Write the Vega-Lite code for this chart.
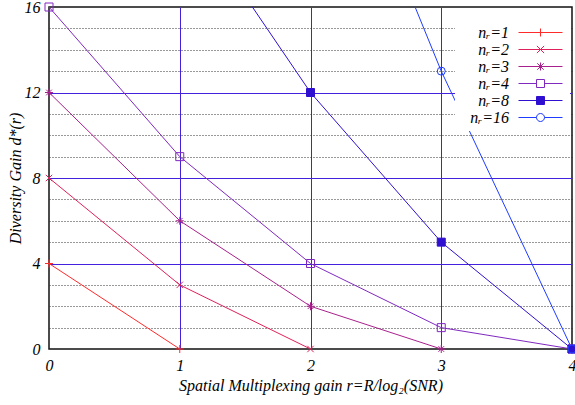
{
  "$schema": "https://vega.github.io/schema/vega-lite/v6.json",
  "width": 523,
  "height": 342,
  "autosize": {"type": "none"},
  "padding": {"left": 49, "top": 7, "right": 3, "bottom": 56},
  "background": "white",
  "config": {"view": {"stroke": "#111", "strokeWidth": 1.5}, "font": "Liberation Serif"},
  "data": {
    "values": [
      {"series": "nᵣ=1", "r": 0, "d": 4},
      {"series": "nᵣ=1", "r": 1, "d": 0},
      {"series": "nᵣ=2", "r": 0, "d": 8},
      {"series": "nᵣ=2", "r": 1, "d": 3},
      {"series": "nᵣ=2", "r": 2, "d": 0},
      {"series": "nᵣ=3", "r": 0, "d": 12},
      {"series": "nᵣ=3", "r": 1, "d": 6},
      {"series": "nᵣ=3", "r": 2, "d": 2},
      {"series": "nᵣ=3", "r": 3, "d": 0},
      {"series": "nᵣ=4", "r": 0, "d": 16},
      {"series": "nᵣ=4", "r": 1, "d": 9},
      {"series": "nᵣ=4", "r": 2, "d": 4},
      {"series": "nᵣ=4", "r": 3, "d": 1},
      {"series": "nᵣ=4", "r": 4, "d": 0},
      {"series": "nᵣ=8", "r": 0, "d": 32},
      {"series": "nᵣ=8", "r": 1, "d": 21},
      {"series": "nᵣ=8", "r": 2, "d": 12},
      {"series": "nᵣ=8", "r": 3, "d": 5},
      {"series": "nᵣ=8", "r": 4, "d": 0},
      {"series": "nᵣ=16", "r": 0, "d": 64},
      {"series": "nᵣ=16", "r": 1, "d": 45},
      {"series": "nᵣ=16", "r": 2, "d": 28},
      {"series": "nᵣ=16", "r": 3, "d": 13},
      {"series": "nᵣ=16", "r": 4, "d": 0}
    ]
  },
  "encoding": {
    "x": {
      "field": "r", "type": "quantitative",
      "scale": {"domain": [0, 4], "nice": false},
      "axis": {
        "values": [0, 1, 2, 3, 4], "format": "d",
        "domain": false, "ticks": false, "tickSize": 0,
        "labelFont": "Liberation Serif", "labelFontStyle": "italic", "labelFontSize": 16, "labelColor": "#000",
        "labelPadding": 8, "labelFlush": false,
        "title": "Spatial Multiplexing gain r=R/log₂(SNR)",
        "titleFont": "Liberation Serif", "titleFontStyle": "italic", "titleFontWeight": "normal", "titleFontSize": 16, "titleColor": "#000",
        "titlePadding": 4,
        "gridColor": {"condition": {"test": "datum.value == 0 || datum.value == 4", "value": "transparent"}, "value": "#4422dd"},
        "gridWidth": 1, "gridOpacity": 1
      }
    },
    "y": {
      "field": "d", "type": "quantitative",
      "scale": {"domain": [0, 16], "nice": false},
      "axis": {
        "values": [0, 1, 2, 3, 4, 5, 6, 7, 8, 9, 10, 11, 12, 13, 14, 15, 16],
        "labelExpr": "datum.value % 4 == 0 ? datum.label : ''",
        "domain": false, "ticks": false, "tickSize": 0,
        "labelFont": "Liberation Serif", "labelFontStyle": "italic", "labelFontSize": 16, "labelColor": "#000",
        "labelPadding": 9, "labelFlush": false,
        "title": "Diversity Gain d*(r)",
        "titleFont": "Liberation Serif", "titleFontStyle": "italic", "titleFontWeight": "normal", "titleFontSize": 16, "titleColor": "#000",
        "titlePadding": 1,
        "gridColor": {"condition": [{"test": "datum.value == 0 || datum.value == 16", "value": "transparent"}, {"test": "datum.value % 4 == 0", "value": "#4422dd"}], "value": "#333"},
        "gridDash": {"condition": {"test": "datum.value % 4 == 0", "value": []}, "value": [1, 2]},
        "gridWidth": 1, "gridOpacity": 1
      }
    }
  },
  "layer": [
    {
      "mark": {"type": "line", "clip": true, "strokeWidth": 1},
      "encoding": {
        "color": {
          "field": "series", "type": "nominal",
          "scale": {"domain": ["nᵣ=1", "nᵣ=2", "nᵣ=3", "nᵣ=4", "nᵣ=8", "nᵣ=16"], "range": ["#ff2a2a", "#e0205a", "#a8208c", "#8028c0", "#3010d0", "#1e3cff"]},
          "legend": null
        }
      }
    },
    {
      "transform": [{"filter": "datum.d <= 16"}],
      "mark": {"type": "point", "size": 64, "strokeWidth": 1, "opacity": 1},
      "encoding": {
        "shape": {
          "field": "series", "type": "nominal",
          "scale": {"domain": ["nᵣ=1", "nᵣ=2", "nᵣ=3", "nᵣ=4", "nᵣ=8", "nᵣ=16"],
            "range": ["M-1,0H1M0,-1V1", "M-0.8,-0.8L0.8,0.8M-0.8,0.8L0.8,-0.8", "M-1,0H1M0,-1V1M-0.7,-0.7L0.7,0.7M-0.7,0.7L0.7,-0.7", "M-1,-1H1V1H-1Z", "M-1,-1H1V1H-1Z", "circle"]},
          "legend": null
        },
        "stroke": {
          "field": "series", "type": "nominal",
          "scale": {"domain": ["nᵣ=1", "nᵣ=2", "nᵣ=3", "nᵣ=4", "nᵣ=8", "nᵣ=16"], "range": ["#ff2a2a", "#e0205a", "#a8208c", "#8028c0", "#3010d0", "#1e3cff"]},
          "legend": null
        },
        "fill": {
          "field": "series", "type": "nominal",
          "scale": {"domain": ["nᵣ=1", "nᵣ=2", "nᵣ=3", "nᵣ=4", "nᵣ=8", "nᵣ=16"], "range": ["transparent", "transparent", "transparent", "transparent", "#3010d0", "transparent"]},
          "legend": null
        }
      }
    },
    {
      "transform": [{"filter": "false"}],
      "mark": {"type": "point", "size": 256, "strokeWidth": 1, "opacity": 1},
      "encoding": {
        "shape": {
          "field": "series", "type": "nominal",
          "scale": {"domain": ["nᵣ=1", "nᵣ=2", "nᵣ=3", "nᵣ=4", "nᵣ=8", "nᵣ=16"],
            "range": [
              "M-2.75,0H2.75M0,-0.5V0.5",
              "M-2.75,0H2.75M-0.45,-0.45L0.45,0.45M-0.45,0.45L0.45,-0.45",
              "M-2.75,0H2.75M0,-0.5V0.5M-0.4,-0.4L0.4,0.4M-0.4,0.4L0.4,-0.4",
              "M-2.75,0H-0.5M0.5,0H2.75M-0.5,-0.5H0.5V0.5H-0.5Z",
              "M-2.75,0H2.75M-0.5,-0.5H0.5V0.5H-0.5Z",
              "M-2.75,0H-0.5M0.5,0H2.75M0.5,0A0.5,0.5 0 1,1 -0.5,0A0.5,0.5 0 1,1 0.5,0Z"
            ]},
          "legend": {
            "title": null, "orient": "none", "legendX": 406, "legendY": 12, "padding": 5,
            "labelFont": "Liberation Serif", "labelFontStyle": "italic", "labelFontSize": 16, "labelColor": "#000",
            "labelAlign": "right", "labelOffset": -40, "symbolOffset": 72, "symbolSize": 256, "symbolStrokeWidth": 1, "rowPadding": 0,
            "fillColor": "white", "labelLimit": 0
          }
        },
        "stroke": {
          "field": "series", "type": "nominal",
          "scale": {"domain": ["nᵣ=1", "nᵣ=2", "nᵣ=3", "nᵣ=4", "nᵣ=8", "nᵣ=16"], "range": ["#ff2a2a", "#e0205a", "#a8208c", "#8028c0", "#3010d0", "#1e3cff"]}
        },
        "fill": {
          "field": "series", "type": "nominal",
          "scale": {"domain": ["nᵣ=1", "nᵣ=2", "nᵣ=3", "nᵣ=4", "nᵣ=8", "nᵣ=16"], "range": ["transparent", "transparent", "transparent", "transparent", "#3010d0", "transparent"]}
        }
      }
    }
  ],
  "resolve": {
    "scale": {"shape": "independent", "stroke": "independent", "fill": "independent"},
    "legend": {"shape": "independent", "stroke": "independent", "fill": "independent"}
  }
}
